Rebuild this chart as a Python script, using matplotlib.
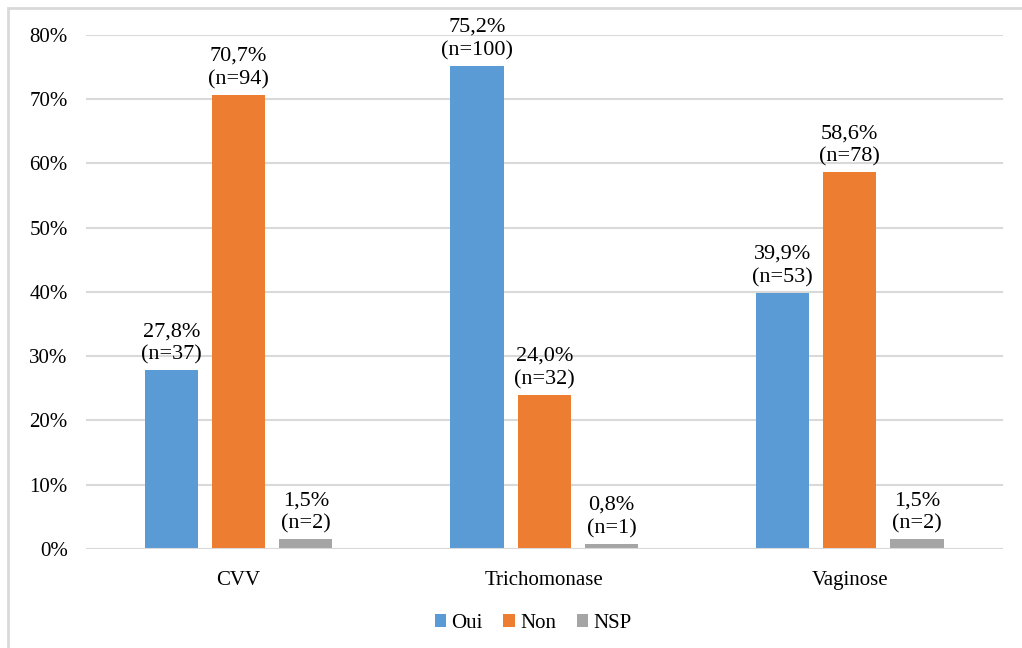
import numpy as np
import matplotlib
matplotlib.use("Agg")
from matplotlib import pyplot as plt
from matplotlib.patches import Rectangle

categories = ["CVV", "Trichomonase", "Vaginose"]
series = ["Oui", "Non", "NSP"]
pct_oui = [27.8, 75.2, 39.9]
pct_non = [70.7, 24.0, 58.6]
pct_nsp = [1.5, 0.8, 1.5]
n_oui = [37, 100, 53]
n_non = [94, 32, 78]
n_nsp = [2, 1, 2]

colors = ["#5B9BD5", "#ED7D31", "#A5A5A5"]

plt.rcParams["font.family"] = ["Liberation Serif", "DejaVu Serif"]

fig = plt.figure(figsize=(10.22, 6.48), dpi=100)
ax = fig.add_axes([0.084, 0.1528, 0.897, 0.7932])

# light frame around the chart
fig.patches.append(Rectangle((8 / 1022, -0.1), 1.2, 1 - 8 / 648 + 0.1,
                             transform=fig.transFigure, fill=False,
                             edgecolor="#D9D9D9", linewidth=2))

x = np.arange(len(categories))
offsets = [-0.22, 0.0, 0.22]
width = 0.174
for vals, ns, name, c, off in zip([pct_oui, pct_non, pct_nsp], [n_oui, n_non, n_nsp],
                                  series, colors, offsets):
    fr = np.array(vals) / 100
    ax.bar(x + off, fr, width, color=c, label=name, zorder=3)
    for xi, v, n in zip(x + off, vals, ns):
        lbl = f"{v:.1f}".replace(".", ",") + f"%\n(n={n})"
        ax.annotate(lbl, (xi, v / 100), xytext=(0, 4), textcoords="offset points",
                    ha="center", va="bottom", fontsize=16, linespacing=1.3)

ax.set_xlim(-0.5, 2.5)
ax.set_ylim(0, 0.8)
ax.set_yticks(np.arange(0, 0.81, 0.1))
ax.set_yticklabels([f"{int(t)}%" for t in np.arange(0, 81, 10)], fontsize=15)
ax.set_xticks(x)
ax.set_xticklabels(categories, fontsize=15)
ax.tick_params(length=0)
ax.tick_params(axis="y", pad=13)
ax.tick_params(axis="x", pad=16)
ax.grid(axis="y", color="#D9D9D9", linewidth=1.5, zorder=0)
for s in ax.spines.values():
    s.set_visible(False)
ax.axhline(0, color="#D9D9D9", linewidth=1.5, zorder=4)

ax.legend(loc="upper center", bbox_to_anchor=(0.488, -0.09), ncol=3, frameon=False,
          fontsize=15, handlelength=0.55, handleheight=0.55, handletextpad=0.25,
          columnspacing=1.0)

plt.savefig("out.png")
plt.close()
